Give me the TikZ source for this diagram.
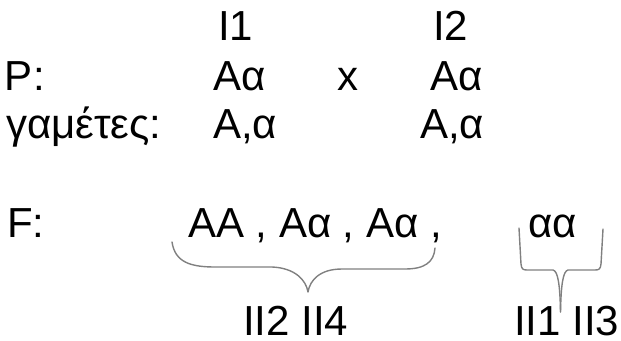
\documentclass[tikz,border=0pt]{standalone}
\usepackage{fontspec}
\setmainfont{Liberation Sans}
\begin{document}
\begin{tikzpicture}[x=1pt,y=-1pt,
  txt/.style={anchor=base west,inner sep=0pt,outer sep=0pt,font=\fontsize{42}{48}\selectfont},
  bracestyle/.style={draw=black!50,line width=1.4pt,line join=round,line cap=round}]
\useasboundingbox (0,0) rectangle (621,340);
% row of parent labels
\node[txt] (i1) at (218,40) {I1};
\node[txt] (i2) at (433,40) {I2};
% P row
\node[txt] (p) at (5,90) {P:};
\node[txt] (p1) at (213,90) {Aα};
\node[txt] (cross) at (337,90) {x};
\node[txt] (p2) at (430,90) {Aα};
% gametes row
\node[txt] (gam) at (6,138) {γαμέτες:};
\node[txt] (g1) at (213,138) {A,α};
\node[txt] (g2) at (420,138) {A,α};
% F row
\node[txt] (f) at (7,237) {F:};
\node[txt] (f1) at (188,237) {AA , Aα , Aα ,};
\node[txt] (f2) at (528,237) {αα};
% descendants
\node[txt,text depth=0pt] (d1) at (243,335) {II2 II4};
\node[txt,text depth=0pt] (d2) at (514,335) {II1 II3};
% brace under AA , Aa , Aa
\draw[bracestyle] (172,242) .. controls (175,262) and (190,267) .. (215,267)
  -- (272,267) .. controls (295,268) and (306,280) .. (308,292)
  .. controls (310,280) and (320,269) .. (342,269)
  -- (405,269) .. controls (425,269) and (434,262) .. (435,248);
% bracket under aa
\draw[bracestyle] (519,228) -- (521,264) .. controls (521.5,269) and (523,270) .. (527,270)
  -- (553,270) .. controls (558,271) and (560,285) .. (560.5,312);
\draw[bracestyle] (603,229) -- (601,264) .. controls (600.5,269) and (599,270) .. (595,270)
  -- (568,270) .. controls (563,271) and (561,285) .. (560.5,312);
\end{tikzpicture}
\end{document}
